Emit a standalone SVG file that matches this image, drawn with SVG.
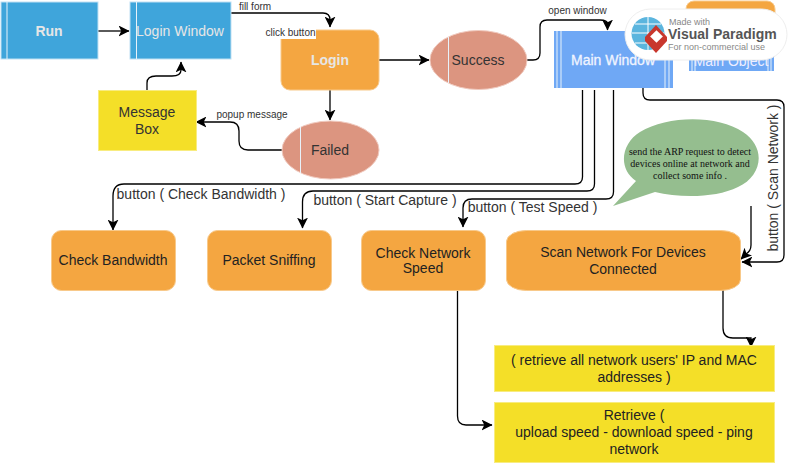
<svg xmlns="http://www.w3.org/2000/svg" width="795" height="463" viewBox="0 0 795 463">
<style>
text{font-family:"Liberation Sans",Arial,sans-serif;font-size:14px;text-anchor:middle;fill:#333}
.blue{fill:#3fa5db;stroke:#bfe0f3;stroke-width:1}
.mb{fill:#6fa8f5;stroke:none}
.or{fill:#f4a641;stroke:#f8c98a;stroke-width:1}
.ye{fill:#f4df28;stroke:#f8ec80;stroke-width:1}
.sa{fill:#dc9580;stroke:#f0cabf;stroke-width:1}
.st{stroke:#e8f2fa;stroke-width:1;fill:none}
.w{fill:#e6e6e6}
.b{font-weight:bold}
.d{fill:#222}
.sm{font-size:10px}
.nt{font-family:"Liberation Serif",serif;font-size:10px;fill:#111}
.c{fill:none;stroke:#000;stroke-width:1.3;marker-end:url(#a)}
.wm{text-anchor:start;font-size:9px;fill:#888}
</style>
<defs>
<marker id="a" viewBox="0 0 10 10" refX="9.500" refY="5" markerWidth="11" markerHeight="11" markerUnits="userSpaceOnUse" orient="auto"><path d="M0 0L10 5L0 10L2.500 5Z" fill="#000"/></marker>
</defs>
<g id="main-object">
<rect x="686" y="1" width="89" height="60" rx="8" class="or"/>
<rect x="689" y="40" width="85" height="31" class="mb"/>
<path d="M692 40V71M695 40V71M768 40V71M771 40V71" class="st"/>
<text x="731" y="66" style="fill:#eef">Main Object</text>
</g>
<g id="connectors">
<path class="c" d="M98 31H129"/>
<path class="c" d="M231 13H323Q330 13 330 20V27"/>
<path class="c" d="M330 90V120"/>
<path class="c" d="M379 60H429"/>
<path class="c" d="M527 60H533Q540 60 540 53V27Q540 20 547 20H600Q607.500 20 607.500 24V30"/>
<path class="c" d="M282 150H248Q239 150 239 141V131Q239 122 230 122H196"/>
<path class="c" d="M147 90V83Q147 76 156 76H172Q181 76 181 70V62"/>
<path class="c" d="M582.500 90V177Q582.500 184 575 184H124Q113 184 113 196V230"/>
<path class="c" d="M594.500 90V184Q594.500 191 587 191H313Q302.500 191 302.500 202V228"/>
<path class="c" d="M613.500 90V192Q613.500 199 606 199H472Q463 199 463 208V227"/>
<path class="c" d="M643 88V93Q643 100 650 100H777Q784 100 784 107V255Q784 262 777 262H742"/>
<path class="c" d="M751 206V245Q751 251 746 254L741 259"/>
<path class="c" d="M723 290V328Q723 338 733 338H751V347"/>
<path class="c" d="M457.500 290V416Q457.500 425 466 425H492"/>
</g>
<g id="run"><rect x="1" y="2" width="97" height="57" class="blue"/><path d="M7 2V59" class="st"/><text x="49" y="36" class="b w">Run</text></g>
<g id="login-window"><rect x="130" y="2" width="101" height="57" class="blue"/><path d="M136.500 2V59" class="st"/><text x="180" y="36" class="w">Login Window</text></g>
<g id="login"><rect x="281" y="30" width="98" height="60" rx="9" class="or"/><text x="330" y="65" class="b w">Login</text></g>
<g id="message-box"><rect x="98.500" y="90.500" width="98" height="60" class="ye"/><text x="147" y="117">Message</text><text x="147" y="134">Box</text></g>
<g id="failed"><ellipse cx="330.500" cy="150" rx="48.500" ry="29" class="sa"/><path d="M300.500 127V173" class="st"/><text x="330" y="155">Failed</text></g>
<g id="success"><ellipse cx="478.500" cy="60" rx="48.500" ry="29.500" class="sa"/><path d="M448.500 37V83" class="st"/><text x="478" y="65">Success</text></g>
<g id="main-window"><rect x="554" y="31" width="119" height="57" class="mb"/><path d="M557 31V88M561 31V88M665 31V88M669 31V88" class="st"/><text x="613" y="65" style="fill:#f0f4ff;stroke:#f0f4ff;stroke-width:.3">Main Window</text></g>
<g id="check-bandwidth"><rect x="51.500" y="230.500" width="124" height="60" rx="10" class="or"/><text x="113" y="265" class="d">Check Bandwidth</text></g>
<g id="packet-sniffing"><rect x="207.500" y="230.500" width="124" height="60" rx="10" class="or"/><text x="269" y="265" class="d">Packet Sniffing</text></g>
<g id="check-network-speed"><rect x="361.500" y="230.500" width="124" height="60" rx="10" class="or"/><text x="423" y="258" class="d">Check Network</text><text x="423" y="273" class="d">Speed</text></g>
<g id="scan-network"><rect x="506.500" y="230.500" width="234" height="60" rx="20" ry="11" class="or"/><text x="623" y="257" class="d">Scan Network For Devices</text><text x="623" y="274" class="d">Connected</text></g>
<g id="retrieve-users"><rect x="494.500" y="345.500" width="280" height="46" class="ye"/><text x="634" y="365" class="d">( retrieve all network users' IP and MAC</text><text x="634" y="382" class="d">addresses )</text></g>
<g id="retrieve-speed"><rect x="494.500" y="402.500" width="280" height="60" class="ye"/><text x="634" y="420" class="d">Retrieve (</text><text x="634" y="437" class="d">upload speed - download speed - ping</text><text x="634" y="454" class="d">network</text></g>
<g id="note"><path d="M636 181C617 168 622 143 640 132C668 115 718 115 743 132C767 148 762 176 738 187C716 198 680 198 655 192L613 206Z" fill="#95be8f"/>
<text x="690" y="155" class="nt">send the ARP request to detect</text><text x="690" y="167" class="nt">devices online at network and</text><text x="690" y="179" class="nt">collect some info .</text></g>
<g id="labels">
<text x="255" y="10" class="sm">fill form</text>
<rect x="265" y="29" width="51" height="10" fill="#fff"/>
<text x="290.500" y="36" class="sm">click button</text>
<text x="252" y="118" class="sm">popup message</text>
<text x="577.500" y="14" class="sm">open window</text>
<text x="201" y="199">button ( Check Bandwidth )</text>
<text x="385" y="205">button ( Start Capture )</text>
<text x="532.500" y="212">button ( Test Speed )</text>
<text transform="translate(778,178) rotate(-90)">button ( Scan Network )</text>
</g>
<g id="watermark">
<rect x="625" y="9" width="162" height="51" rx="25.500" fill="#fff" stroke="#eee"/>
<circle cx="648" cy="33.500" r="16.500" fill="#5bb5de"/>
<path d="M632 33H664M648 17V50M635 24H661M635 43H661" stroke="#fff" stroke-width="1" fill="none"/>
<path d="M656 25L667 37L667 41L656 53L645 41L645 37Z" fill="#c8372d"/>
<rect x="652" y="32" width="9" height="9" fill="#fff" transform="rotate(45 656.500 36.500)"/>
<text x="669" y="25" class="wm">Made with</text>
<text x="668" y="39" style="text-anchor:start;font-size:14px;font-weight:bold;fill:#555">Visual Paradigm</text>
<text x="668" y="50" class="wm">For non-commercial use</text>
</g>
</svg>
